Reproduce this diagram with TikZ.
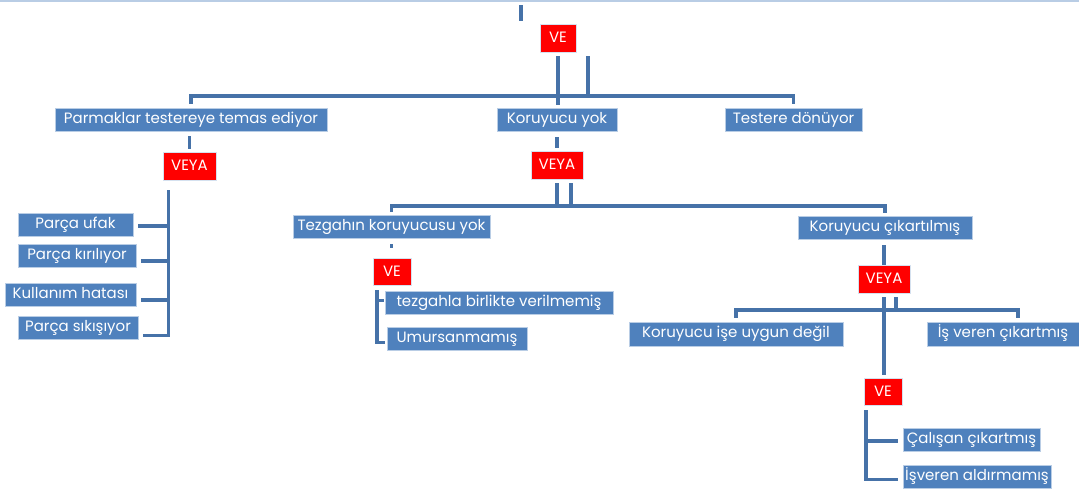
\documentclass[tikz,border=0pt]{standalone}
\usepackage{fontspec}
\setmainfont{Poppins}
\usepackage{tikz}
\usetikzlibrary{positioning}

\definecolor{boxblue}{HTML}{4F81BD}
\definecolor{lineblue}{HTML}{4672A8}
\definecolor{edgeblue}{HTML}{B9CDE5}
\definecolor{gatered}{HTML}{FF0000}

\tikzset{
  event/.style={fill=boxblue, draw=edgeblue, line width=0.6pt, text=white,
    inner sep=1pt, minimum height=23pt, text height=10pt, text depth=3pt,
    font=\fontsize{15}{17}\selectfont},
  gate/.style={fill=gatered, draw=edgeblue!60, line width=0.6pt, text=white,
    inner sep=1pt, minimum height=28pt, text height=10pt, text depth=1pt,
    font=\fontsize{15}{17}\selectfont},
  conn/.style={draw=lineblue, line width=3.6pt}
}

\begin{document}
\begin{tikzpicture}[x=1pt, y=-1pt]
  \useasboundingbox (0,0) rectangle (1079,493);
  \draw[edgeblue, line width=1.2pt] (0,1) -- (1079,1);

  % Define nodes
  \node[gate, minimum width=36pt] (ve0) at (558,38) {VE};
  \node[event, minimum width=272pt] (parm) at (191,119.5) {Parmaklar testereye temas ediyor};
  \node[event, minimum width=120pt] (koryok) at (557,119.5) {Koruyucu yok};
  \node[event, minimum width=137pt] (testere) at (793.5,119.5) {Testere dönüyor};

  \node[gate, minimum width=53pt] (veyaL) at (189.5,166) {VEYA};
  \node[event, minimum width=115pt] (ufak) at (75.5,224.5) {Parça ufak};
  \node[event, minimum width=118pt] (kiril) at (77,256) {Parça kırılıyor};
  \node[event, minimum width=131pt] (kullan) at (70.5,294.5) {Kullanım hatası};
  \node[event, minimum width=120pt] (sikis) at (78,327.5) {Parça sıkışıyor};

  \node[gate, minimum width=52pt] (veyaM) at (557,165) {VEYA};
  \node[event, minimum width=197pt] (tezg) at (391.5,226.5) {Tezgahın koruyucusu yok};
  \node[event, minimum width=174pt] (cikar) at (885,227.5) {Koruyucu çıkartılmış};

  \node[gate, minimum width=38pt, minimum height=27pt] (veT) at (392,271.5) {VE};
  \node[event, minimum width=228pt] (birlik) at (499,302.5) {tezgahla birlikte verilmemiş};
  \node[event, minimum width=140pt] (umurs) at (457,338.5) {Umursanmamış};

  \node[gate, minimum width=52pt] (veyaR) at (884,279) {VEYA};
  \node[event, minimum width=214pt, minimum height=24pt] (uygun) at (736,334) {Koruyucu işe uygun değil};
  \node[event, minimum width=152pt, minimum height=24pt] (isveren) at (1003,334) {İş veren çıkartmış};

  \node[gate, minimum width=38pt, minimum height=27pt] (veC) at (883,391.5) {VE};
  \node[event, minimum width=137pt] (calisan) at (971.5,439.5) {Çalışan çıkartmış};
  \node[event, minimum width=148pt] (aldir) at (977,476.5) {İşveren aldırmamış};

  \coordinate (topTick) at (521,5);
  \coordinate (ve0R) at ([xshift=30pt,yshift=-4pt]ve0.south);
  \coordinate (veyaMR) at ([xshift=14pt,yshift=-4pt]veyaM.south);
  \coordinate (veyaRR) at ([xshift=12pt,yshift=-4pt]veyaR.south);
  \coordinate (veyaLB) at ([xshift=-21pt,yshift=-10pt]veyaL.south);
  \coordinate (veTB) at ([xshift=-15pt,yshift=-5pt]veT.south);
  \coordinate (veCB) at ([xshift=-17pt,yshift=-5pt]veC.south);

  % Connect the nodes
  \draw[conn] (topTick) -- ++(0,16);
  \draw[conn] ([yshift=-4pt]ve0.south) -- ([yshift=3pt]koryok.north -| ve0.south);
  \draw[conn] ([yshift=4pt]parm.north) |- ([yshift=12pt]testere.north) -- ([yshift=4pt]testere.north);
  \draw[conn] (ve0R) -- (ve0R |- 0,96);

  \draw[conn] ([yshift=-5pt]parm.south -| veyaL.north) -- ([yshift=3pt]veyaL.north);
  \draw[conn] (veyaLB) |- ([xshift=5pt,yshift=-8pt]sikis.east);
  \foreach \n/\d in {ufak/-1.5, kiril/-5, kullan/-5.5}
    \draw[conn] ([xshift=5pt,yshift=\d pt]\n.east) -| (veyaLB);

  \draw[conn] ([yshift=-6pt]koryok.south -| veyaM.north) -- ([yshift=3pt]veyaM.north);
  \draw[conn] ([yshift=3pt]tezg.north) |- ([yshift=10pt]cikar.north) -- ([yshift=3pt]cikar.north);
  \draw[conn] ([yshift=-4pt]veyaM.south) -- ([yshift=10pt]veyaM.south |- tezg.north);
  \draw[conn] (veyaMR) -- (veyaMR |- 0,205);

  \draw[conn] ([yshift=-6pt]tezg.south) -- ([yshift=-10pt]tezg.south);
  \draw[conn] (veTB) |- ([xshift=-2pt,yshift=-4pt]umurs.west);
  \draw[conn] ([xshift=-1pt,yshift=2pt]birlik.west) -| (veTB);

  \draw[conn] ([yshift=-6pt]cikar.south -| veyaR.north) -- (veyaR.north);
  \draw[conn] ([yshift=4pt]uygun.north) |- ([xshift=15pt,yshift=12pt]isveren.north) -- ([xshift=15pt,yshift=4pt]isveren.north);
  \draw[conn] ([yshift=-4pt]veyaR.south) -- ([yshift=3pt]veC.north -| veyaR.south);
  \draw[conn] (veyaRR) -- (veyaRR |- 0,310);

  \draw[conn] (veCB) |- ([xshift=-5pt,yshift=-3pt]aldir.west);
  \draw[conn] ([xshift=-5pt,yshift=-1.5pt]calisan.west) -| (veCB);
\end{tikzpicture}
\end{document}
